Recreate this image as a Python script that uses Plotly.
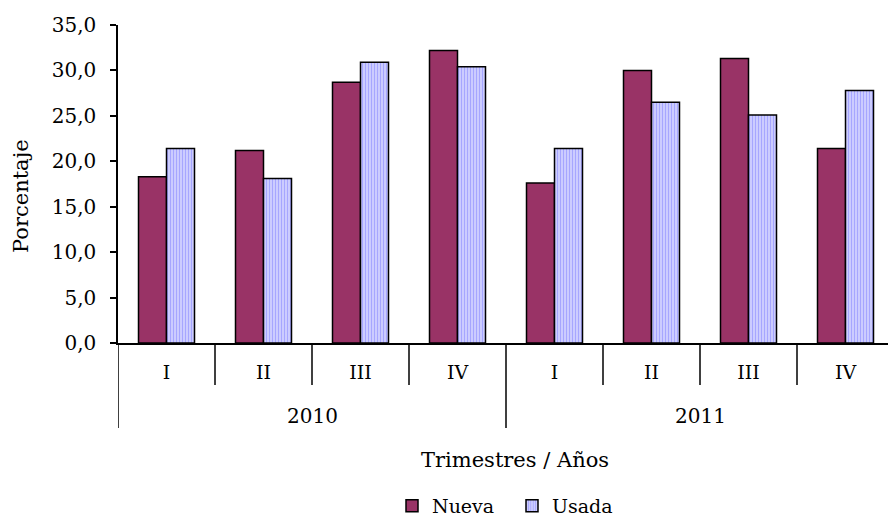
import plotly.graph_objects as go

years = ["2010", "2011"]
quarters = ["I", "II", "III", "IV", "I", "II", "III", "IV"]
nueva = [18.3, 21.2, 28.7, 32.2, 17.6, 30.0, 31.3, 21.4]
usada = [21.4, 18.1, 30.9, 30.4, 21.4, 26.5, 25.1, 27.8]
yticks = [0, 5, 10, 15, 20, 25, 30, 35]

FONT = "DejaVu Serif"
pos = list(range(len(quarters)))

fig = go.Figure()
fig.add_trace(go.Bar(
    x=pos, y=nueva, name="Nueva",
    marker=dict(color="#993366", line=dict(color="black", width=1.5)),
))
fig.add_trace(go.Bar(
    x=pos, y=usada, name="Usada",
    marker=dict(color="#CCCCFF", line=dict(color="black", width=1.5),
                pattern=dict(shape="|", bgcolor="#CCCCFF", fgcolor="#8080FF",
                             size=3, solidity=0.35)),
))

W, H = 888, 518
L, T = 118, 25
PH = 318
B = H - T - PH
plot_w = W - L
cat_px = 97.0
xr = [-0.5, -0.5 + plot_w / cat_px]
y0pix = 343  # pixel of the x axis


def py(page_y):
    return (y0pix - page_y) / PH


def px(page_x):
    return (page_x - L) / plot_w


shapes = []
short_y = py(385)
long_y = py(428)
for i in range(len(quarters) + 1):
    xv = i - 0.5
    if xv > xr[1]:
        continue
    y1 = long_y if i % 4 == 0 else short_y
    shapes.append(dict(type="line", xref="x", yref="paper", x0=xv, x1=xv,
                       y0=0, y1=y1, line=dict(color="black", width=1.5)))

annotations = []
for k, yr in enumerate(years):
    annotations.append(dict(text=yr, xref="x", yref="paper", x=1.5 + 4 * k,
                            y=py(416), showarrow=False,
                            font=dict(family=FONT, size=20, color="black"),
                            xanchor="center", yanchor="middle"))
annotations.append(dict(text="Trimestres / Años", xref="paper", yref="paper",
                        x=px(515), y=py(460),
                        showarrow=False, xanchor="center", yanchor="middle",
                        font=dict(family=FONT, size=21, color="black")))
annotations.append(dict(text="Porcentaje", xref="paper", yref="paper",
                        x=px(21), y=py(196),
                        textangle=-90, showarrow=False,
                        xanchor="center", yanchor="middle",
                        font=dict(family=FONT, size=21, color="black")))

fig.update_layout(
    width=W, height=H,
    margin=dict(l=L, r=0, t=T, b=B, autoexpand=False),
    paper_bgcolor="white", plot_bgcolor="white",
    barmode="group", bargap=41 / 97, bargroupgap=0,
    separators=",.",
    font=dict(family=FONT, size=19, color="black"),
    showlegend=True,
    legend=dict(orientation="h", x=px(392), y=py(506),
                xanchor="left", yanchor="middle", itemwidth=30,
                entrywidth=75, entrywidthmode="pixels",
                font=dict(family=FONT, size=19, color="black"),
                bgcolor="rgba(0,0,0,0)"),
    shapes=shapes, annotations=annotations,
    xaxis=dict(range=xr, tickvals=pos, ticktext=quarters, showgrid=False,
               zeroline=False, showline=True, linecolor="black", linewidth=1.5,
               ticks="", ticklabelstandoff=11,
               tickfont=dict(family=FONT, size=19, color="black")),
    yaxis=dict(range=[0, 35], tickvals=yticks, tickformat=".1f", showgrid=False,
               zeroline=False, showline=True, linecolor="black", linewidth=1.5,
               ticks="outside", ticklen=6, tickwidth=1.5, tickcolor="black",
               ticklabelstandoff=10,
               tickfont=dict(family=FONT, size=20, color="black")),
)

fig.write_html(
    "out.html",
    config={"displayModeBar": False},
    post_script="document.body.style.margin='0';document.body.style.overflow='hidden';",
)
